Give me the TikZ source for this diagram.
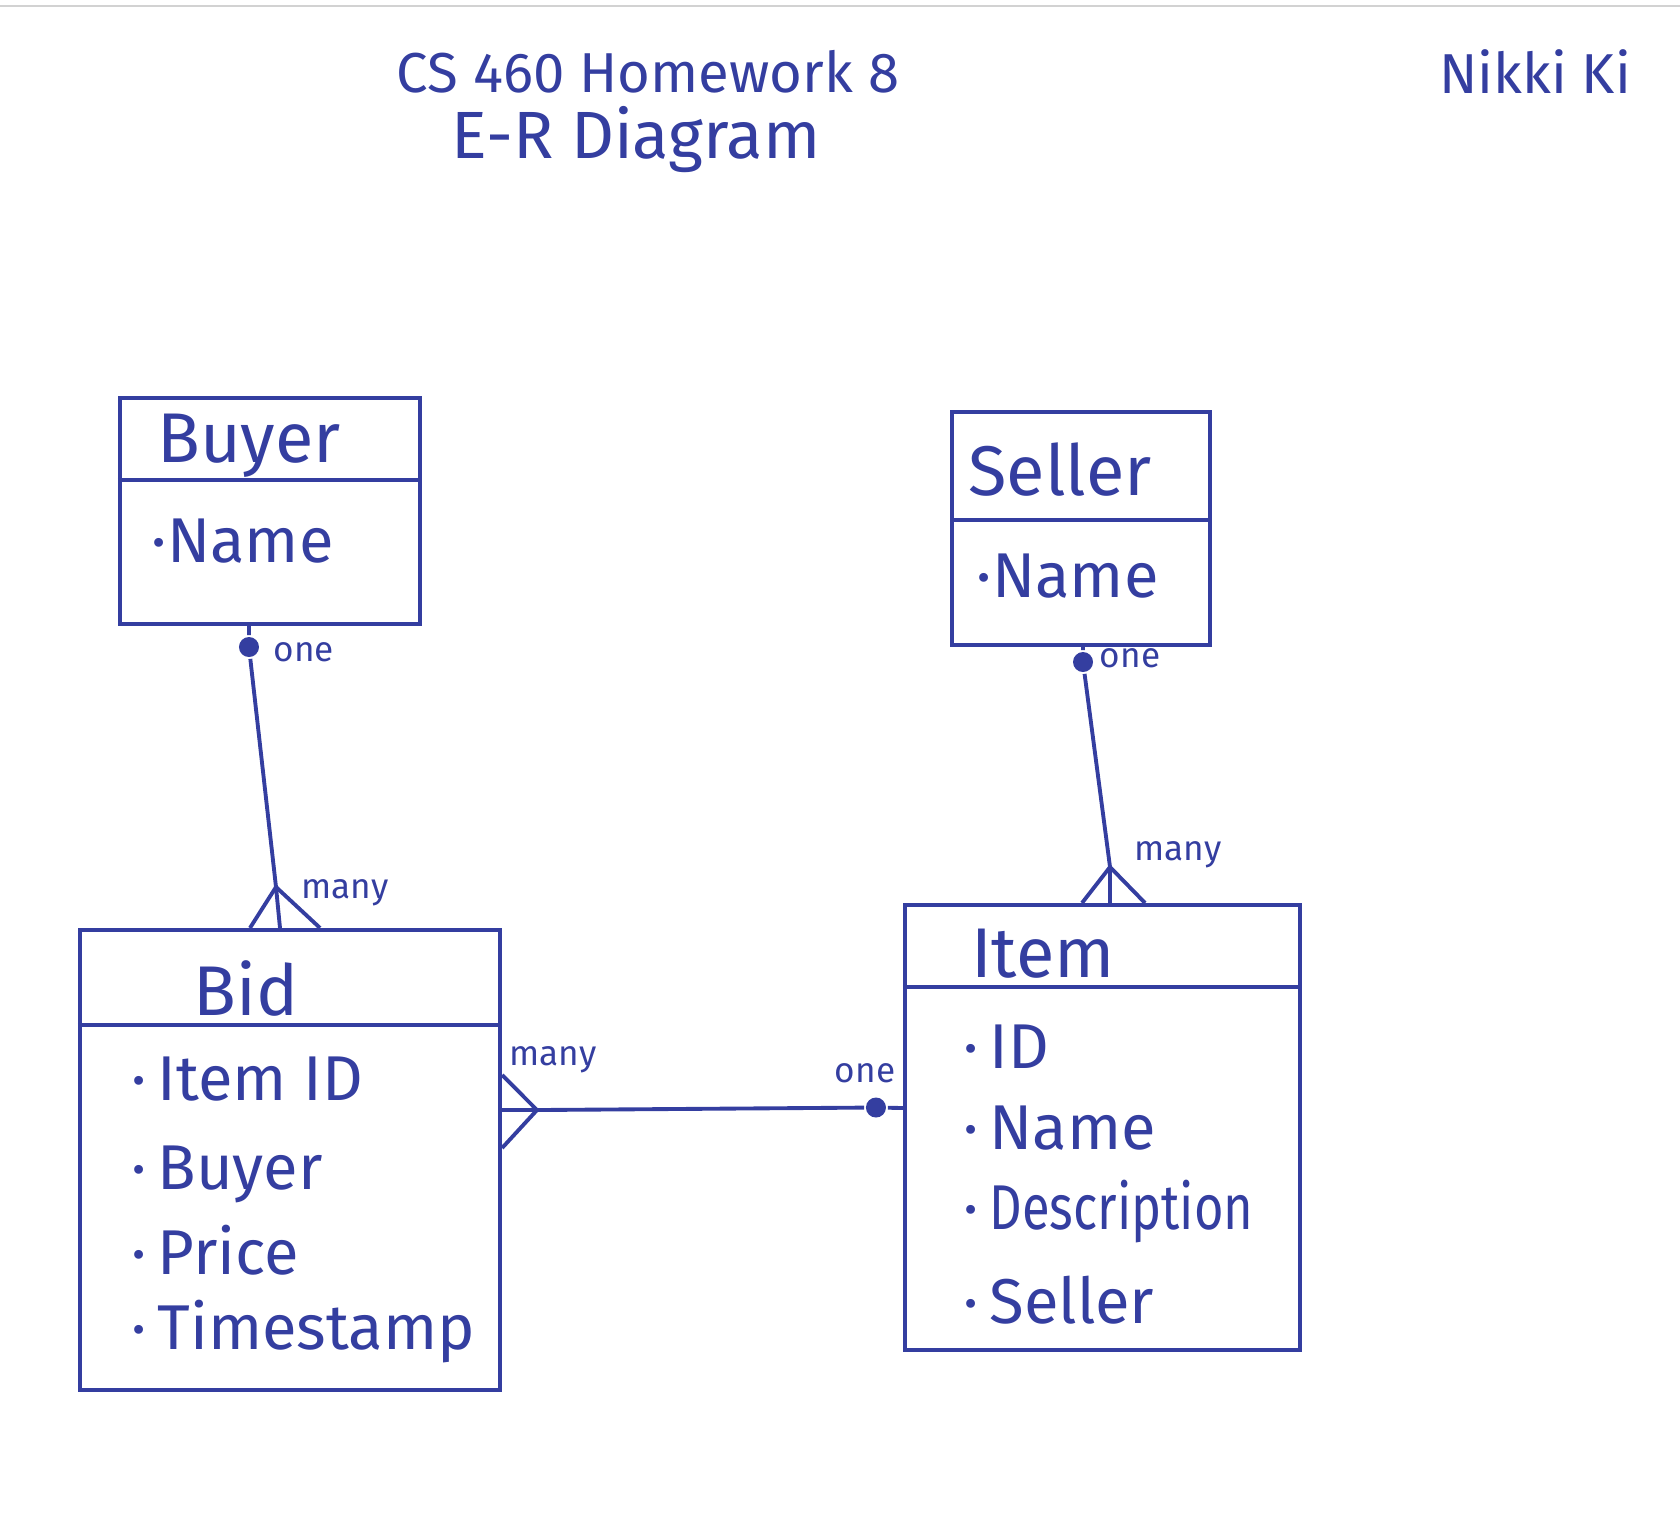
\documentclass[tikz,border=0pt]{standalone}
\usepackage{fontspec}
\setmainfont{Fira Sans}
\usepackage{xcolor}
\usepackage{graphicx}
\usepackage{tikz}
\usetikzlibrary{positioning, calc}

\definecolor{ink}{RGB}{52,62,160}

\tikzset{
  entity/.style={draw=ink, rectangle, inner sep=0pt},
  heading/.style={text=ink, inner sep=0pt, font=\fontsize{20}{22}\selectfont},
  attr/.style={text=ink, inner sep=0pt, anchor=west, font=\fontsize{18}{20}\selectfont},
  card/.style={text=ink, inner sep=0pt, font=\fontsize{10}{12}\selectfont},
  titletext/.style={text=ink, inner sep=0pt, font=\fontsize{16}{20}\selectfont},
  dotend/.style={circle, fill=ink, inner sep=0pt, minimum size=0.2cm}
}

\begin{document}
\begin{tikzpicture}[x=0.01cm, y=-0.01cm, line width=1.1pt]
  \useasboundingbox (0,0) rectangle (1680,1529);
  \draw[gray!35, line width=0.6pt] (0,6) -- (1680,6);

  % heading of the sheet
  \node[titletext] (title) at (648,72) {CS 460 Homework 8};
  \node[titletext, font=\fontsize{19}{22}\selectfont] (subtitle) at (636,140) {E-R Diagram};
  \node[titletext] (author) at (1535,72) {Nikki Ki};

  % entities
  \node[entity, minimum width=3cm, minimum height=2.26cm] (buyer) at (270,511) {};
  \node[entity, minimum width=2.58cm, minimum height=2.33cm] (seller) at (1081,528.5) {};
  \node[entity, minimum width=4.2cm, minimum height=4.6cm] (bid) at (290,1160) {};
  \node[entity, minimum width=3.95cm, minimum height=4.45cm] (item) at (1102.5,1127.5) {};

  \draw[ink] (buyer.west |- 0,480) -- (buyer.east |- 0,480);
  \draw[ink] (seller.west |- 0,520) -- (seller.east |- 0,520);
  \draw[ink] (bid.west |- 0,1025) -- (bid.east |- 0,1025);
  \draw[ink] (item.west |- 0,987) -- (item.east |- 0,987);

  \node[heading] (buyertitle) at (249,446) {Buyer};
  \node[heading] (sellertitle) at (1060,470) {Seller};
  \node[heading] (bidtitle) at (246,988) {Bid};
  \node[heading] (itemtitle) at (1043,954) {Item};

  \node[attr] (buyername) at (150,541) {·Name};
  \node[attr] (sellername) at (975,576) {·Name};
  \foreach \i/\y/\t in {1/1079/Item ID, 2/1174/Buyer, 3/1250/Price, 4/1332/Timestamp}
    \node[attr] (bidattr\i) at (130,\y) {·\,\t};
  \foreach \i/\y/\t in {1/1047/ID, 2/1128/Name, 3/1212/\scalebox{0.8}[1]{Description}, 4/1300/Seller}
    \node[attr] (itemattr\i) at (962,\y) {·\,\t};

  % buyer -- bid
  \node[dotend] (buyerdot) at ([xshift=-0.21cm, yshift=-0.21cm]buyer.south) {};
  \coordinate (bidfoot) at (276,887);
  \draw[ink] ([xshift=-0.21cm]buyer.south) -- (buyerdot) -- (bidfoot) -- ([xshift=-0.1cm]bid.north);
  \draw[ink] ([xshift=-0.4cm]bid.north) -- (bidfoot) -- ([xshift=0.3cm]bid.north);
  \node[card] (buyerone) at (304,652) {one};
  \node[card] (bidmany) at (345,893) {many};

  % seller -- item
  \node[dotend] (sellerdot) at ([xshift=0.02cm, yshift=-0.15cm]seller.south) {};
  \coordinate (itemfoot) at (1110,867);
  \draw[ink] ([xshift=0.02cm]seller.south) -- (sellerdot) -- (itemfoot) -- ([xshift=0.075cm]item.north);
  \draw[ink] ([xshift=-0.205cm]item.north) -- (itemfoot) -- ([xshift=0.425cm]item.north);
  \node[card] (sellerone) at (1130,658) {one};
  \node[card] (itemmany) at (1178,855) {many};

  % bid -- item
  \coordinate (bidsidefoot) at (537,1110);
  \node[dotend] (itemdot) at ([xshift=-0.27cm, yshift=0.2cm]item.west) {};
  \draw[ink] ([yshift=0.5cm]bid.east) -- (bidsidefoot) -- (itemdot) -- ([yshift=0.195cm]item.west);
  \draw[ink] ([yshift=0.85cm]bid.east) -- (bidsidefoot) -- ([yshift=0.12cm]bid.east);
  \node[card] (bidsidemany) at (553,1060) {many};
  \node[card] (itemsideone) at (865,1073) {one};
\end{tikzpicture}
\end{document}
